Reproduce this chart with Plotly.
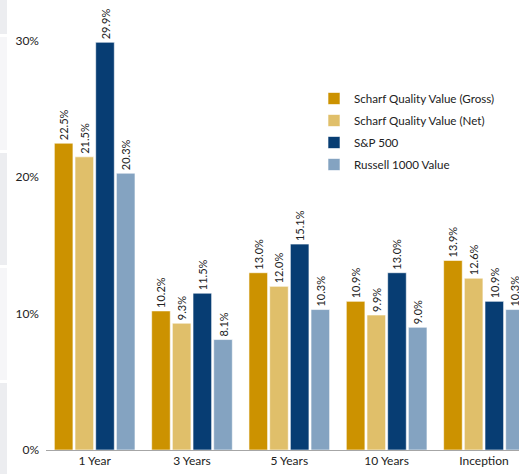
import plotly.graph_objects as go

categories = ["1 Year", "3 Years", "5 Years", "10 Years", "Inception"]
series_names = ["Scharf Quality Value (Gross)", "Scharf Quality Value (Net)", "S&P 500", "Russell 1000 Value"]
gross = [22.5, 10.2, 13.0, 10.9, 13.9]
net = [21.5, 9.3, 12.0, 9.9, 12.6]
sp500 = [29.9, 11.5, 15.1, 13.0, 10.9]
russell = [20.3, 8.1, 10.3, 9.0, 10.3]
colors = ["#CC9200", "#E0BF6A", "#073D73", "#84A3C1"]
tick_vals = [0, 10, 20, 30]
tick_text = ["0%", "10%", "20%", "30%"]

FONT = "Lato"
fig = go.Figure()
for i, (name, vals) in enumerate(zip(series_names, [gross, net, sp500, russell])):
    fig.add_trace(go.Bar(
        x=categories, y=vals, name=name,
        marker=dict(color=colors[i], line=dict(color="white", width=0.6)),
        text=[f"{v:.1f}%" for v in vals],
        textposition="outside", textangle=-90, constraintext="none",
        textfont=dict(family=FONT, size=11, color="#222222"),
        cliponaxis=True,
        legendgroup=f"g{i}",
    ))

L, W = 46, 473
fig.update_layout(
    width=519, height=474,
    margin=dict(l=46, r=0, t=0, b=24),
    paper_bgcolor="white", plot_bgcolor="white",
    barmode="group", bargap=0.15, bargroupgap=0.1,
    showlegend=True,
    legend=dict(x=(314 - L) / W, y=1 - 84 / 450, xanchor="left", yanchor="top",
                font=dict(family=FONT, size=11.6, color="#222222"),
                tracegroupgap=3, itemwidth=30, bgcolor="rgba(0,0,0,0)"),
    font=dict(family=FONT, size=12, color="#222222"),
    xaxis=dict(range=[-0.5, 4.36], showline=True, linecolor="#A6A6A6", linewidth=1,
               ticks="", tickfont=dict(family=FONT, size=12, color="#222222"),
               showgrid=False, zeroline=False),
    yaxis=dict(range=[0, 33], tickvals=tick_vals, ticktext=tick_text,
               showgrid=False, zeroline=False, showline=False, ticks="",
               tickfont=dict(family=FONT, size=12, color="#222222"), ticklabelstandoff=6),
)

# decorative left page strip
segs = [(0, 34, "#ECEDF0"), (37, 150, "#F6F6F8"), (153, 265, "#ECEDF0"), (268, 380, "#F6F6F8"), (383, 474, "#ECEDF0")]
for y0, y1, c in segs:
    fig.add_shape(type="rect", xref="paper", yref="paper",
                  x0=(0 - L) / W, x1=(7 - L) / W,
                  y0=1 - (y1) / 450, y1=1 - y0 / 450,
                  fillcolor=c, line=dict(width=0), layer="below")

fig.write_html("out.html", config={"displayModeBar": False},
               post_script="document.body.style.margin='0';")
